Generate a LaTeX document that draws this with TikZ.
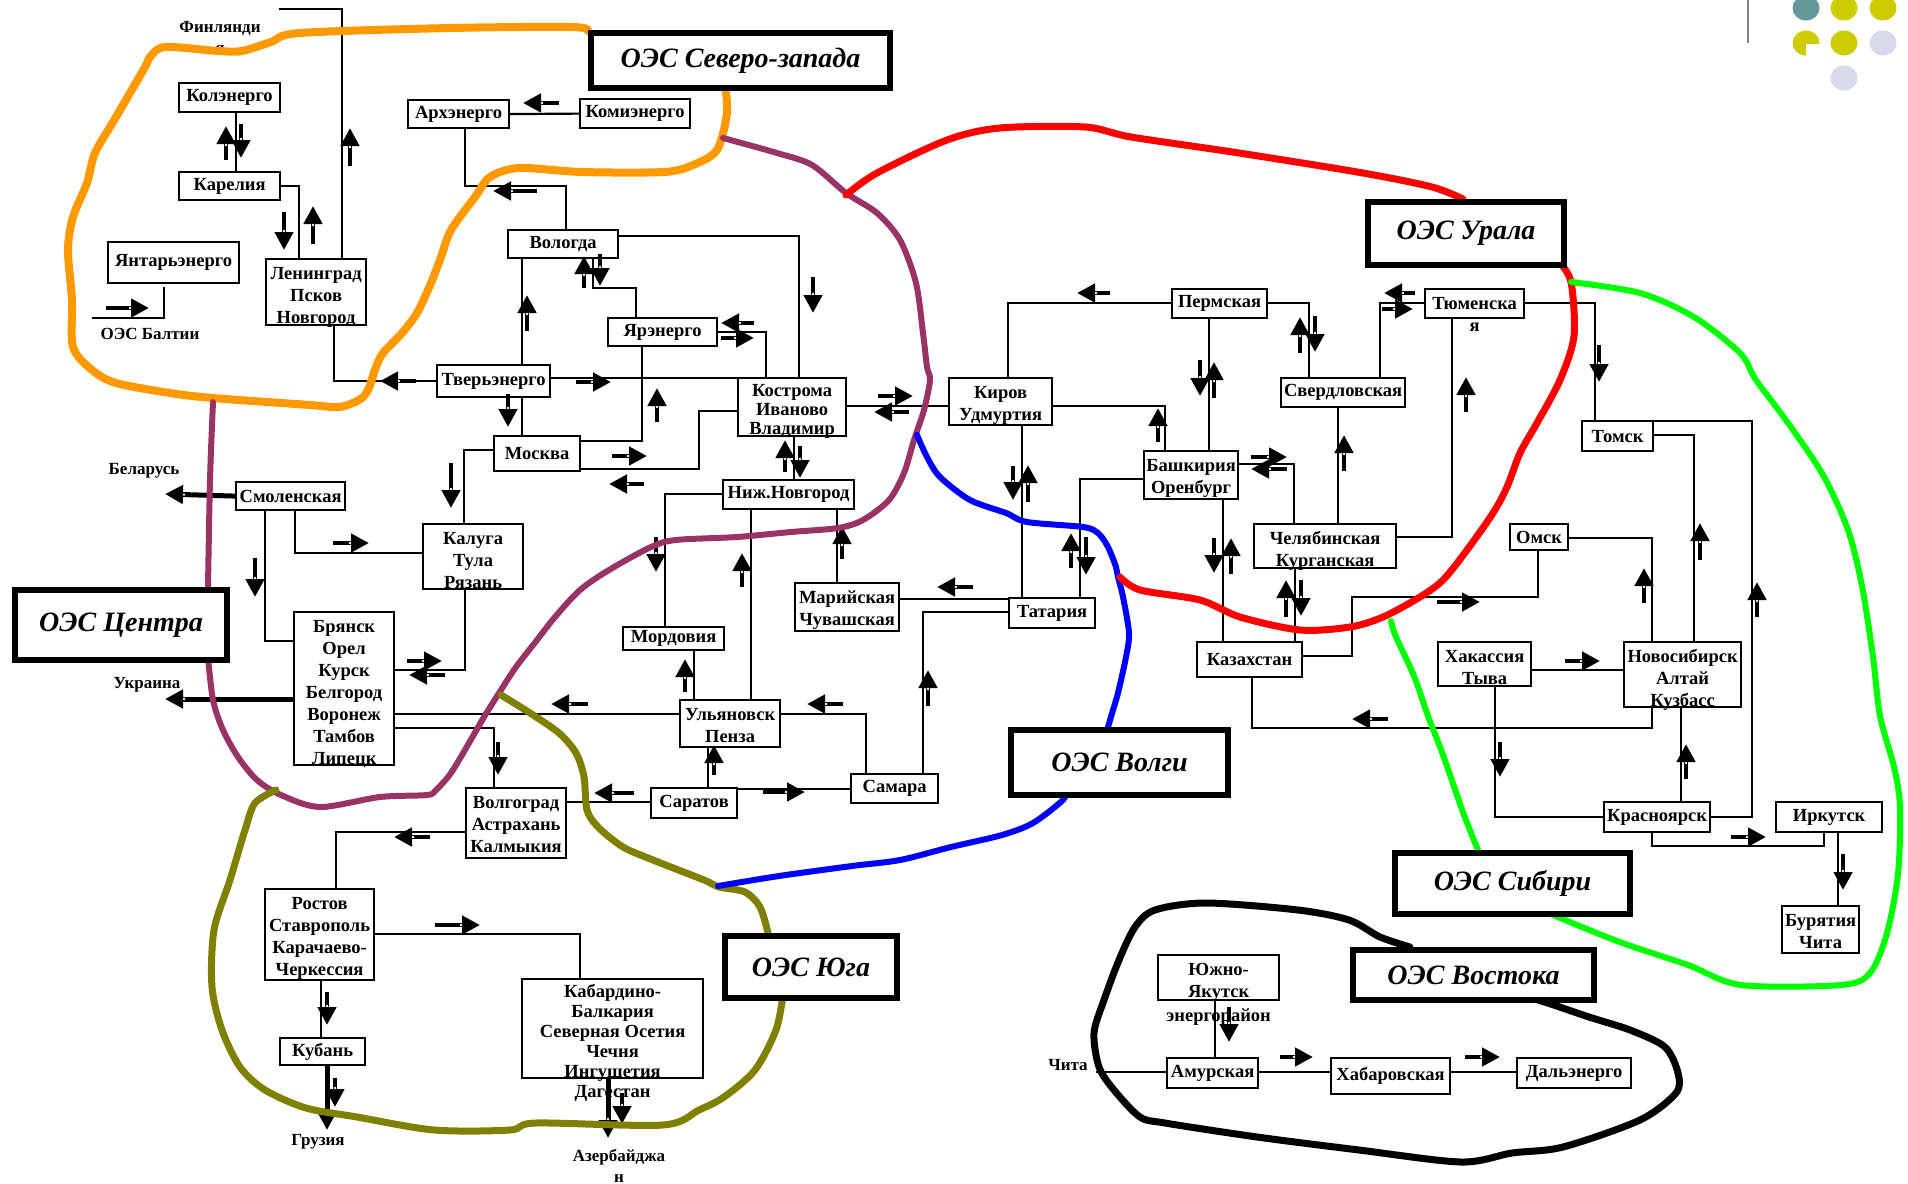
\documentclass[tikz,border=0pt]{standalone}
\usepackage{fontspec}
\setmainfont{Liberation Serif}
\usetikzlibrary{arrows.meta, decorations.markings}

\definecolor{nwOrange}{HTML}{FF9900}
\definecolor{centrePurple}{HTML}{993366}
\definecolor{southOlive}{HTML}{808000}
\definecolor{dotTeal}{HTML}{669999}
\definecolor{dotYellow}{HTML}{CCCC00}
\definecolor{dotLilac}{HTML}{D9D9EC}

\newcommand{\boxfont}{\bfseries\fontsize{18.5}{22}\selectfont}
\newcommand{\oesfont}{\bfseries\itshape\fontsize{28}{32}\selectfont}
\newcommand{\tagfont}{\bfseries\fontsize{17}{21}\selectfont}

\tikzset{
  cell/.style={draw, line width=2.2pt, fill=white, anchor=north west, align=center, inner sep=1pt, font=\boxfont},
  stack/.style 2 args={text height=#1, text depth=#2},
  tail/.style={inner sep=0pt, font=\boxfont},
  oes/.style={draw, line width=6pt, fill=white, anchor=north west, font=\oesfont},
  tag/.style={align=center, font=\tagfont, inner sep=0pt},
  link/.style={line width=2.2pt},
  flow/.style={line width=4.5pt, -{Triangle[width=18pt,length=18pt]},
    postaction={decorate, decoration={markings,
      mark=at position -19pt with {\fill[white] (0,0) circle (1.3pt);}}}},
  export/.style={flow, line width=5pt},
  zone/.style={line width=#1, line cap=round, line join=round},
  zone/.default=7pt
}

\begin{document}
\begin{tikzpicture}[x=1pt, y=-1pt]
    \fill[white] (0,0) rectangle (1908,1183);
    \useasboundingbox (0,0) rectangle (1908,1183);

    \node[cell, minimum width=101, minimum height=29] (kola) at (178,82) {Колэнерго};
    \node[cell, minimum width=101, minimum height=28] (karel) at (178,171) {Карелия};
    \node[cell, minimum width=131, minimum height=41] (yantar) at (107,241) {Янтарьэнерго};
    \node[cell, stack={63}{1}, minimum width=100] (lenin) at (265,258) {Ленинград\\Псков\\Новгород};
    \node[cell, minimum width=101, minimum height=28] (arkh) at (407,99) {Архэнерго};
    \node[cell, minimum width=110, minimum height=29] (komi) at (579,98) {Комиэнерго};
    \node[cell, minimum width=110, minimum height=28] (volog) at (507,229) {Вологда};
    \node[cell, minimum width=109, minimum height=28] (yar) at (607,317) {Ярэнерго};
    \node[cell, minimum width=113, minimum height=32] (tver) at (436,364) {Тверьэнерго};
    \node[cell, minimum width=86, minimum height=35] (mosk) at (493,435) {Москва};
    \node[cell, stack={55}{1}, minimum width=108] (kostr) at (737,377) {Кострома\\[-3pt]Иваново\\[-3pt]Владимир};
    \node[cell, minimum width=131, minimum height=29] (nizh) at (722,479) {Ниж.Новгород};
    \node[cell, minimum width=109, minimum height=28] (smol) at (235,481) {Смоленская};
    \node[cell, stack={63}{0}, minimum width=100] (kaluga) at (422,523) {Калуга\\Тула\\Рязань};
    \node[cell, stack={151}{0}, minimum width=100] (bryansk) at (293,611) {Брянск\\Орел\\Курск\\Белгород\\Воронеж\\Тамбов\\Липецк};
    \node[cell, minimum width=101, minimum height=23] (mord) at (622,626) {Мордовия};
    \node[cell, stack={41}{5}, minimum width=104] (mari) at (794,582) {Марийская\\Чувашская};
    \node[cell, stack={41}{4}, minimum width=100] (ulyan) at (679,699) {Ульяновск\\Пенза};
    \node[cell, stack={63}{5}, minimum width=100] (volgo) at (465,787) {Волгоград\\Астрахань\\Калмыкия};
    \node[cell, minimum width=86, minimum height=30] (sarat) at (650,787) {Саратов};
    \node[cell, minimum width=87, minimum height=29] (samara) at (850,773) {Самара};
    \node[cell, stack={41}{4}, minimum width=103] (kirov) at (948,377) {Киров\\Удмуртия};
    \node[cell, minimum width=86, minimum height=30] (tatar) at (1008,597) {Татария};
    \node[cell, minimum width=95, minimum height=29] (perm) at (1171,288) {Пермская};
    \node[cell, minimum width=124, minimum height=29] (sverd) at (1280,377) {Свердловская};
    \node[cell, minimum width=99, minimum height=29,
      label={[tail, name=tyumenTail, label distance=4pt]below:я}] (tyumen) at (1424,288) {Тюменска};
    \node[cell, stack={41}{5}, minimum width=94] (bashk) at (1143,450) {Башкирия\\Оренбург};
    \node[cell, stack={41}{1}, minimum width=142] (chel) at (1253,523) {Челябинская\\Курганская};
    \node[cell, minimum width=105, minimum height=35] (kazakh) at (1196,641) {Казахстан};
    \node[cell, minimum width=71, minimum height=30] (tomsk) at (1581,420) {Томск};
    \node[cell, minimum width=58, minimum height=26] (omsk) at (1509,523) {Омск};
    \node[cell, stack={63}{0}, minimum width=117] (novosib) at (1623,641) {Новосибирск\\Алтай\\Кузбасс};
    \node[cell, stack={41}{1}, minimum width=93] (khakas) at (1437,641) {Хакассия\\Тыва};
    \node[cell, minimum width=106, minimum height=30] (krasn) at (1603,801) {Красноярск};
    \node[cell, minimum width=106, minimum height=30] (irk) at (1775,801) {Иркутск};
    \node[cell, stack={41}{4}, minimum width=77] (buryat) at (1781,905) {Бурятия\\Чита};
    \node[cell, stack={85}{4}, minimum width=109] (rostov) at (264,888) {Ростов\\Ставрополь\\Карачаево-\\Черкессия};
    \node[cell, minimum width=85, minimum height=27] (kuban) at (279,1037) {Кубань};
    \node[cell, stack={97}{0}, minimum width=181,
      label={[tail, name=kabardTail, label distance=6pt]below:Дагестан}] (kabard) at (521,978) {Кабардино-\\[-2pt]Балкария\\[-2pt]Северная Осетия\\[-2pt]Чечня\\[-2pt]Ингушетия};
    \node[cell, stack={41}{2}, minimum width=121,
      label={[tail, name=yakutTail, label distance=7pt]below:энергорайон}] (yakut) at (1157,954) {Южно-\\Якутск};
    \node[cell, minimum width=91, minimum height=30] (amur) at (1166,1057) {Амурская};
    \node[cell, minimum width=119, minimum height=36] (khab) at (1330,1057) {Хабаровская};
    \node[cell, minimum width=114, minimum height=30] (dalen) at (1516,1057) {Дальэнерго};

    \node[tag, anchor=north] (finLabel) at (220,21) {Финлянди\\я};
    \node[tag] (baltLabel) at (150,334) {ОЭС Балтии};
    \node[tag] (belLabel) at (144,471) {Беларусь};
    \node[tag] (ukrLabel) at (147,685) {Украина};
    \node[tag] (gruzLabel) at (318,1142) {Грузия};
    \node[tag, anchor=north] (azerLabel) at (619,1149) {Азербайджа\\н};
    \node[tag] (chitaLabel) at (1068,1065) {Чита};

    \coordinate (finEnd) at (279,9);
    \coordinate (baltTop) at (164,287);
    \coordinate (baltEnd) at (92,318);
    \coordinate (belEnd) at (165,494);
    \coordinate (ukrEnd) at (165,699);
    \coordinate (gruzEnd) at (327,1130);
    \coordinate (azerEnd) at (608,1138);
    \coordinate (chitaEnd) at (1096,1072);

    \draw[link] (lenin.north -| 342,0) |- (finEnd);
    \draw[link] (kola.south -| 236,0) -- (karel.north -| 236,0);
    \draw[link] (karel.east) -| (lenin.north -| 299,0);
    \draw[link] (baltTop) |- (baltEnd);
    \draw[link] (lenin.south -| 334,0) |- (tver.west);
    \draw[link] (arkh.east) -- (komi.west);
    \draw[link] (arkh.south -| 465,0) |- (566,186) -- (volog.north -| 566,0);
    \draw[link] (volog.south -| 522,0) -- (tver.north -| 522,0);
    \draw[link] (volog.south -| 593,0) |- (636,288) -- (yar.north -| 636,0);
    \draw[link] (volog.east |- 0,236) -| (kostr.north -| 799,0);
    \draw[link] (yar.east |- 0,332) -| (kostr.north -| 766,0);
    \draw[link] (yar.south -| 642,0) |- (mosk.east |- 0,441);
    \draw[link] (tver.east |- 0,378) -- (kostr.west |- 0,378);
    \draw[link] (tver.south -| 522,0) -- (mosk.north -| 522,0);
    \draw[link] (mosk.east |- 0,469) -| (699,411) -- (kostr.west |- 0,411);
    \draw[link] (mosk.west |- 0,450) -| (kaluga.north -| 464,0);
    \draw[link] (kostr.south -| 794,0) -- (nizh.north -| 794,0);
    \draw[link] (kostr.east |- 0,406) -- (kirov.west |- 0,406);
    \draw[link] (smol.south -| 265,0) |- (bryansk.west |- 0,641);
    \draw[link] (smol.south -| 295,0) |- (kaluga.west |- 0,553);
    \draw[link] (kaluga.south -| 465,0) |- (bryansk.east |- 0,670);
    \draw[link] (nizh.west |- 0,494) -| (mord.north -| 665,0);
    \draw[link] (nizh.south -| 751,0) -- (ulyan.north -| 751,0);
    \draw[link] (nizh.south -| 837,0) -- (mari.north -| 837,0);
    \draw[link] (mord.south -| 694,0) -- (ulyan.north -| 694,0);
    \draw[link] (ulyan.west |- 0,714) -- (bryansk.east |- 0,714);
    \draw[link] (ulyan.east |- 0,714) -| (samara.north -| 866,0);
    \draw[link] (bryansk.east |- 0,728) -| (volgo.north -| 494,0);
    \draw[link] (sarat.west |- 0,802) -- (volgo.east |- 0,802);
    \draw[link] (sarat.north -| 708,0) -- (ulyan.south -| 708,0);
    \draw[link] (sarat.east |- 0,789) -- (samara.west |- 0,789);
    \draw[link] (samara.north -| 923,0) |- (tatar.west |- 0,612);
    \draw[link] (mari.east |- 0,599) -- (tatar.west |- 0,599);
    \draw[link] (kirov.south -| 1022,0) -- (tatar.north -| 1022,0);
    \draw[link] (kirov.north -| 1008,0) |- (perm.west |- 0,303);
    \draw[link] (kirov.east |- 0,406) -| (bashk.north -| 1165,0);
    \draw[link] (perm.east |- 0,303) -| (sverd.north -| 1309,0);
    \draw[link] (perm.south -| 1209,0) -- (bashk.north -| 1209,0);
    \draw[link] (sverd.north -| 1380,0) |- (tyumen.west |- 0,303);
    \draw[link] (tyumen.east |- 0,303) -| (tomsk.north -| 1595,0);
    \draw[link] (bashk.west |- 0,479) -| (tatar.north -| 1080,0);
    \draw[link] (bashk.east |- 0,464) -| (chel.north -| 1294,0);
    \draw[link] (bashk.south -| 1223,0) -- (kazakh.north -| 1223,0);
    \draw[link] (chel.north -| 1338,0) -- (sverd.south -| 1338,0);
    \draw[link] (chel.east |- 0,537) -| (tyumen.south -| 1452,0);
    \draw[link] (chel.south -| 1295,0) -- (kazakh.north -| 1295,0);
    \draw[link] (kazakh.east |- 0,656) -| (1352,597) -| (omsk.south -| 1538,0);
    \draw[link] (kazakh.south -| 1252,0) |- (1652,728) -- (novosib.south -| 1652,0);
    \draw[link] (tomsk.east |- 0,435) -| (novosib.north -| 1694,0);
    \draw[link] (tomsk.east |- 0,421) -| (1752,817) -- (krasn.east |- 0,817);
    \draw[link] (omsk.east |- 0,538) -| (novosib.north -| 1652,0);
    \draw[link] (khakas.east |- 0,670) -- (novosib.west |- 0,670);
    \draw[link] (khakas.south -| 1495,0) |- (krasn.west |- 0,817);
    \draw[link] (novosib.south -| 1681,0) -- (krasn.north -| 1681,0);
    \draw[link] (krasn.south -| 1652,0) |- (1824,846) -- (irk.south -| 1824,0);
    \draw[link] (irk.south -| 1838,0) -- (buryat.north -| 1838,0);
    \draw[link] (volgo.west |- 0,832) -| (rostov.north -| 336,0);
    \draw[link] (rostov.east |- 0,934) -| (kabard.north -| 580,0);
    \draw[link] (rostov.south -| 321,0) -- (kuban.north -| 321,0);
    \draw[link] (yakut.south -| 1215,0) -- (amur.north -| 1215,0);
    \draw[link] (chitaEnd) -- (amur.west |- 0,1072);
    \draw[link] (amur.east |- 0,1072) -- (khab.west |- 0,1072);
    \draw[link] (khab.east |- 0,1072) -- (dalen.west |- 0,1072);

    \draw[export] (smol.west) -- (belEnd);
    \draw[export] (bryansk.west |- 0,699) -- (ukrEnd);
    \draw[export] (kuban.south -| 327,0) -- (gruzEnd);
    \draw[export] (kabard.south -| 608,0) -- (azerEnd);

    \draw[flow] (226,160) -- (226,126);
    \draw[flow] (241,124) -- (241,158);
    \draw[flow] (350,166) -- (350,128);
    \draw[flow] (284,212) -- (284,250);
    \draw[flow] (313,244) -- (313,206);
    \draw[flow] (106,308) -- (149,308);
    \draw[flow] (416,381) -- (380,381);
    \draw[flow] (559,103) -- (523,103);
    \draw[flow] (537,191) -- (493,191);
    \draw[flow] (527,331) -- (527,295);
    \draw[flow] (584,288) -- (584,256);
    \draw[flow] (600,254) -- (600,286);
    \draw[flow] (813,277) -- (813,313);
    \draw[flow] (754,323) -- (721,323);
    \draw[flow] (721,338) -- (754,338);
    \draw[flow] (657,422) -- (657,388);
    \draw[flow] (576,382) -- (611,382);
    \draw[flow] (508,394) -- (508,427);
    \draw[flow] (612,456) -- (647,456);
    \draw[flow] (644,484) -- (609,484);
    \draw[flow] (451,463) -- (451,508);
    \draw[flow] (785,472) -- (785,440);
    \draw[flow] (800,446) -- (800,478);
    \draw[flow] (878,396) -- (913,396);
    \draw[flow] (909,412) -- (874,412);
    \draw[flow] (255,558) -- (255,597);
    \draw[flow] (333,543) -- (369,543);
    \draw[flow] (407,661) -- (442,661);
    \draw[flow] (445,675) -- (409,675);
    \draw[flow] (656,537) -- (656,572);
    \draw[flow] (742,587) -- (742,553);
    \draw[flow] (842,559) -- (842,526);
    \draw[flow] (685,692) -- (685,659);
    \draw[flow] (588,704) -- (551,704);
    \draw[flow] (843,704) -- (807,704);
    \draw[flow] (498,742) -- (498,775);
    \draw[flow] (634,793) -- (594,793);
    \draw[flow] (714,775) -- (714,745);
    \draw[flow] (763,792) -- (805,792);
    \draw[flow] (928,706) -- (928,670);
    \draw[flow] (430,837) -- (394,837);
    \draw[flow] (973,587) -- (937,587);
    \draw[flow] (1013,466) -- (1013,500);
    \draw[flow] (1028,502) -- (1028,465);
    \draw[flow] (1158,442) -- (1158,408);
    \draw[flow] (1110,293) -- (1077,293);
    \draw[flow] (1300,353) -- (1300,317);
    \draw[flow] (1315,316) -- (1315,352);
    \draw[flow] (1200,360) -- (1200,396);
    \draw[flow] (1214,398) -- (1214,362);
    \draw[flow] (1415,293) -- (1384,293);
    \draw[flow] (1382,309) -- (1413,309);
    \draw[flow] (1599,345) -- (1599,382);
    \draw[flow] (1071,568) -- (1071,533);
    \draw[flow] (1086,537) -- (1086,575);
    \draw[flow] (1251,457) -- (1287,457);
    \draw[flow] (1287,469) -- (1251,469);
    \draw[flow] (1214,538) -- (1214,573);
    \draw[flow] (1231,574) -- (1231,538);
    \draw[flow] (1344,471) -- (1344,435);
    \draw[flow] (1466,412) -- (1466,377);
    \draw[flow] (1286,617) -- (1286,580);
    \draw[flow] (1301,580) -- (1301,616);
    \draw[flow] (1437,602) -- (1480,602);
    \draw[flow] (1388,719) -- (1352,719);
    \draw[flow] (1700,560) -- (1700,523);
    \draw[flow] (1757,617) -- (1757,582);
    \draw[flow] (1644,603) -- (1644,568);
    \draw[flow] (1565,661) -- (1600,661);
    \draw[flow] (1500,742) -- (1500,777);
    \draw[flow] (1686,779) -- (1686,744);
    \draw[flow] (1731,837) -- (1766,837);
    \draw[flow] (1843,854) -- (1843,890);
    \draw[flow] (435,925) -- (480,925);
    \draw[flow] (327,992) -- (327,1025);
    \draw[flow] (335,1078) -- (335,1107);
    \draw[flow] (622,1093) -- (622,1124);
    \draw[flow] (1229,1007) -- (1229,1042);
    \draw[flow] (1280,1057) -- (1313,1057);
    \draw[flow] (1465,1057) -- (1500,1057);

    \draw[zone=8pt, nwOrange] plot[smooth, tension=0.5] coordinates {(588,31) (572,27) (450,28) (300,33) (271,42) (242,51) (218,51) (165,47) (150,57) (145,67) (116,117) (95,153) (87,183) (73,217) (68,250) (72,300) (73,347) (92,370) (116,383) (170,393) (213,398) (310,405) (339,407) (359,400) (368,390) (376,367) (383,353) (402,333) (417,313) (431,283) (441,257) (451,230) (475,197) (490,177) (519,168) (582,172) (664,172) (693,165) (717,150) (727,113) (725,86)};
    \draw[zone=6pt, centrePurple] plot[smooth, tension=0.5] coordinates {(213,402) (210,480) (208,587)};
    \draw[zone=6pt, centrePurple] plot[smooth, tension=0.5] coordinates {(208,657) (213,700) (223,730) (238,757) (257,780) (281,795) (320,807) (380,797) (427,795) (436,790) (451,773) (469,743) (484,717) (501,690) (516,667) (537,640) (555,617) (580,590) (609,570) (651,547) (676,540) (737,537) (791,532) (838,528) (863,520) (889,500) (904,473) (914,440) (924,410) (930,380) (927,367) (923,333) (916,283) (900,240) (877,213) (846,193) (812,165) (777,153) (723,138)};
    \draw[zone=7pt, southOlive] plot[smooth, tension=0.5] coordinates {(501,695) (530,713) (559,733) (576,753) (584,777) (587,810) (598,827) (623,847) (653,860) (704,880) (719,887) (745,892) (760,907) (768,933)};
    \draw[zone=7pt, southOlive] plot[smooth, tension=0.5] coordinates {(783,995) (776,1030) (755,1070) (724,1097) (699,1110) (663,1125) (536,1123) (510,1130) (434,1130) (357,1117) (306,1108) (265,1090) (240,1067) (222,1030) (212,987) (214,930) (230,880) (245,830) (255,803) (276,790)};
    \draw[zone=6pt, blue] plot[smooth, tension=0.5] coordinates {(917,435) (927,457) (940,477) (970,500) (1006,513) (1027,522) (1083,527) (1098,533) (1108,547) (1116,567) (1118,577) (1123,597) (1129,633) (1126,657) (1118,693) (1113,710) (1108,727)};
    \draw[zone=6pt, blue] plot[smooth, tension=0.5] coordinates {(1065,792) (1063,800) (1033,823) (1002,835) (951,847) (900,860) (852,866) (779,876) (718,886)};
    \draw[zone=7pt, red] plot[smooth, tension=0.5] coordinates {(846,195) (877,173) (947,140) (1000,128) (1085,127) (1131,137) (1239,153) (1363,173) (1432,187) (1463,199)};
    \draw[zone=7pt, red] plot[smooth, tension=0.5] coordinates {(1559,262) (1571,282) (1574,336) (1560,380) (1537,423) (1520,453) (1507,487) (1493,513) (1467,550) (1443,580) (1420,597) (1383,617) (1350,627) (1300,630) (1240,617) (1200,600) (1140,590) (1120,577)};
    \draw[zone=6pt, green] plot[smooth, tension=0.5] coordinates {(1571,282) (1640,293) (1694,317) (1740,353) (1756,380) (1788,423) (1823,475) (1848,530) (1862,586) (1873,657) (1880,716) (1894,767) (1900,807) (1898,874) (1887,933) (1870,973) (1841,985) (1741,985) (1688,965) (1617,941) (1546,912)};
    \draw[zone=6pt, green] plot[smooth, tension=0.5] coordinates {(1478,850) (1464,815) (1443,755) (1428,716) (1414,676) (1396,637) (1391,621)};
    \draw[zone=7pt, black] plot[smooth, tension=0.5] coordinates {(1410,947) (1380,937) (1349,920) (1298,910) (1206,903) (1155,910) (1135,927) (1119,960) (1104,1000) (1094,1033) (1099,1067) (1114,1090) (1140,1117) (1165,1123) (1257,1137) (1359,1150) (1461,1162) (1512,1153) (1563,1147) (1640,1120) (1676,1093) (1678,1073) (1665,1047) (1630,1030) (1589,1017) (1538,1000) (1517,997)};

    \node[oes, minimum width=299, minimum height=55] (oesNW) at (588,30) {ОЭС Северо-запада};
    \node[oes, minimum width=196, minimum height=63] (oesUral) at (1365,199) {ОЭС Урала};
    \node[oes, minimum width=212, minimum height=70] (oesCentre) at (12,587) {ОЭС Центра};
    \node[oes, minimum width=217, minimum height=65] (oesVolga) at (1008,727) {ОЭС Волги};
    \node[oes, minimum width=172, minimum height=62] (oesSouth) at (722,933) {ОЭС Юга};
    \node[oes, minimum width=235, minimum height=61] (oesSiberia) at (1392,850) {ОЭС Сибири};
    \node[oes, minimum width=241, minimum height=50] (oesEast) at (1350,947) {ОЭС Востока};

    \draw[gray, line width=1.5pt] (1748,0) -- (1748,43);
    \fill[dotTeal] (1806,8) ellipse [x radius=13.5, y radius=12.5];
    \fill[dotYellow] (1844,8) ellipse [x radius=13.5, y radius=12.5];
    \fill[dotYellow] (1883,8) ellipse [x radius=13.5, y radius=12.5];
    \fill[dotYellow] (1806,43) ellipse [x radius=13.5, y radius=12.5];
    \fill[white] (1806,44) rectangle (1821,57);
    \fill[dotYellow] (1844,43) ellipse [x radius=13.5, y radius=12.5];
    \fill[dotLilac] (1883,43) ellipse [x radius=13.5, y radius=12.5];
    \fill[dotLilac] (1844,78) ellipse [x radius=13.5, y radius=12.5];
\end{tikzpicture}
\end{document}
